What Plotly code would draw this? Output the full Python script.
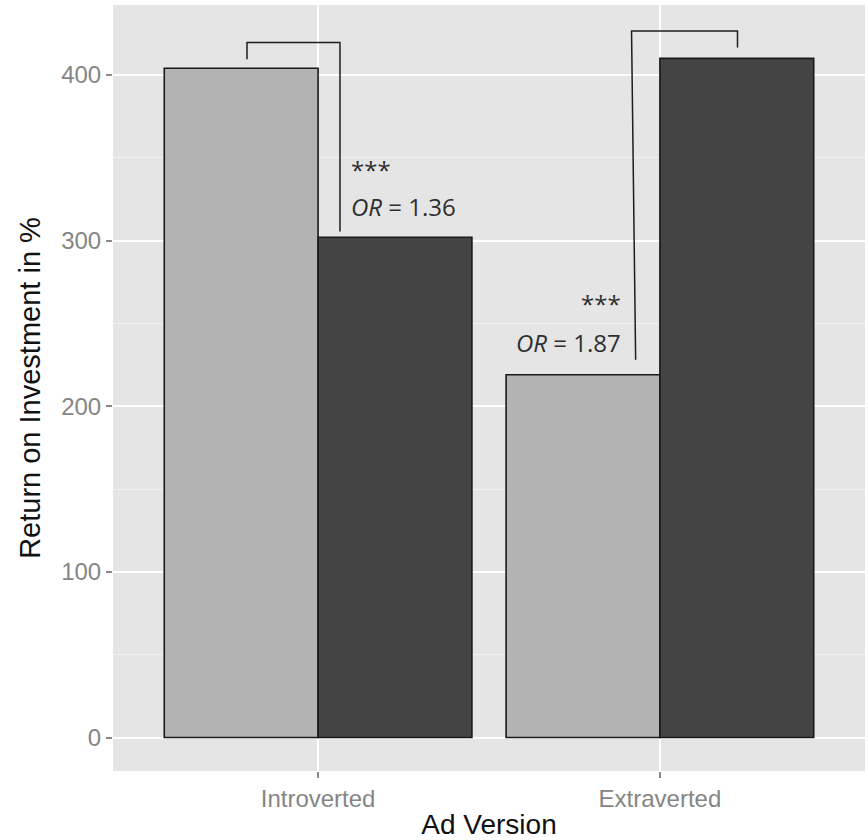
import plotly.graph_objects as go

# Return on investment (%) by ad version, for the two target audiences
categories = ["Introverted", "Extraverted"]
light_roi = [404, 219]
dark_roi = [302, 410]

# Significance brackets (x in category units, y in %)
bracket_intro_x = [-0.208, -0.208, 0.064, 0.064]
bracket_intro_y = [409.5, 419.5, 419.5, 305.5]
bracket_extra_x = [0.929, 0.917, 1.227, 1.227]
bracket_extra_y = [228, 426.5, 426.5, 416.5]

stars = ["***", "***"]
odds_labels = ["<i>OR</i> = 1.36", "<i>OR</i> = 1.87"]

y_ticks = [0, 100, 200, 300, 400]

pos = list(range(len(categories)))

fig = go.Figure()
fig.add_trace(go.Bar(
    x=pos, y=light_roi, name="light",
    marker=dict(color="#b3b3b3", line=dict(color="#1a1a1a", width=1.6)),
))
fig.add_trace(go.Bar(
    x=pos, y=dark_roi, name="dark",
    marker=dict(color="#444444", line=dict(color="#1a1a1a", width=1.6)),
))

for bx, by in [(bracket_intro_x, bracket_intro_y), (bracket_extra_x, bracket_extra_y)]:
    fig.add_trace(go.Scatter(
        x=bx, y=by, mode="lines",
        line=dict(color="#1e1e1e", width=1.5),
        hoverinfo="skip",
    ))

ann_font = dict(family="Open Sans, Noto Sans, sans-serif", size=24, color="#2e2e2e")
# Introverted: labels to the right of the bracket leg
fig.add_annotation(x=0.09, y=343, text=stars[0], showarrow=False,
                   xanchor="left", yanchor="middle", font=ann_font)
fig.add_annotation(x=0.09, y=320.5, text=odds_labels[0], showarrow=False,
                   xanchor="left", yanchor="middle", font=ann_font)
# Extraverted: labels to the left of the bracket leg
fig.add_annotation(x=0.892, y=262, text=stars[1], showarrow=False,
                   xanchor="right", yanchor="middle", font=ann_font)
fig.add_annotation(x=0.892, y=238.5, text=odds_labels[1], showarrow=False,
                   xanchor="right", yanchor="middle", font=ann_font)

axis_font = dict(family="Liberation Sans, Arial, sans-serif", size=24, color="#858585")
title_font = dict(family="Liberation Sans, Arial, sans-serif", color="#111111")

fig.update_layout(
    width=868, height=840,
    margin=dict(l=113, r=3, t=5, b=69),
    paper_bgcolor="white",
    plot_bgcolor="#e5e5e5",
    barmode="group",
    bargap=0.1,
    bargroupgap=0,
    showlegend=False,
    xaxis=dict(
        range=[-0.6, 1.6],
        tickmode="array", tickvals=pos, ticktext=categories,
        showgrid=True, gridcolor="white", gridwidth=1.5,
        zeroline=False, showline=False,
        ticks="outside", ticklen=6, tickwidth=1.5, tickcolor="#8a8a8a",
        tickfont=axis_font,
        title=dict(text="Ad Version", font=dict(size=28, **title_font), standoff=5),
    ),
    yaxis=dict(
        range=[-20.2, 442.2],
        tickmode="array", tickvals=y_ticks,
        showgrid=True, gridcolor="white", gridwidth=1.5,
        minor=dict(dtick=50, tick0=0, showgrid=True, gridcolor="#f2f2f2", gridwidth=1),
        zeroline=False, showline=False,
        ticks="outside", ticklen=6, tickwidth=1.5, tickcolor="#8a8a8a",
        tickfont=axis_font,
        title=dict(text="Return on Investment in %", font=dict(size=29, **title_font), standoff=12),
    ),
)

fig.write_html("out.html")
